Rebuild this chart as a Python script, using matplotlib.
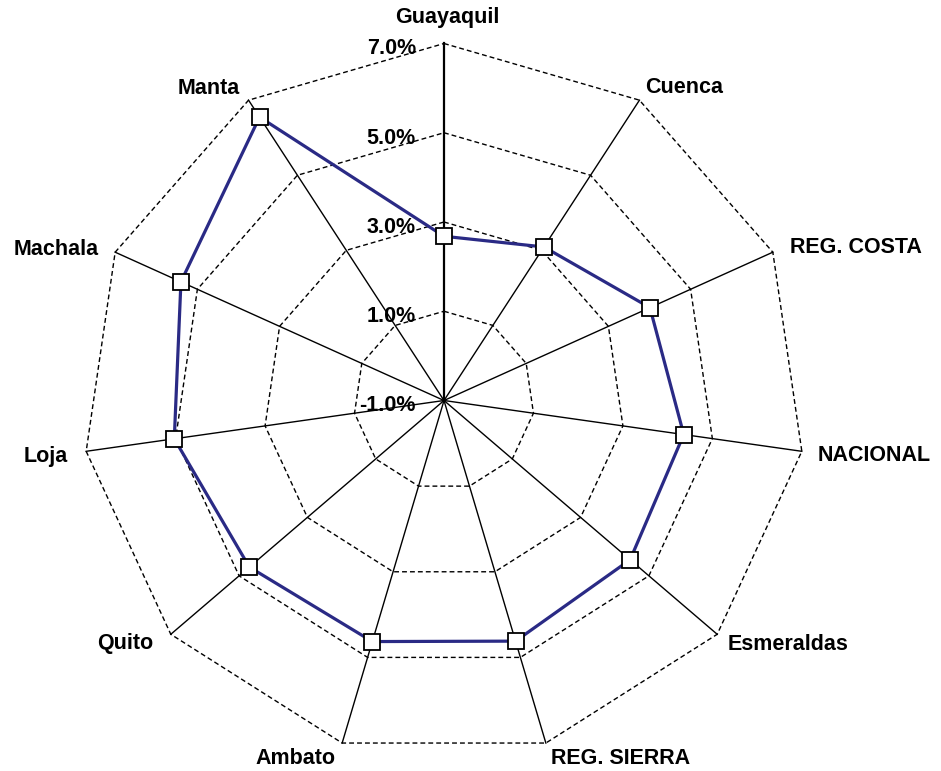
import numpy as np
import matplotlib
matplotlib.use("Agg")
import matplotlib.pyplot as plt

plt.rcParams['font.family'] = ['Liberation Sans', 'DejaVu Sans']

categories = ["Guayaquil", "Cuenca", "REG. COSTA", "NACIONAL", "Esmeraldas",
              "REG. SIERRA", "Ambato", "Quito", "Loja", "Machala", "Manta"]
values = [2.68, 3.09, 4.01, 4.36, 4.45, 4.62, 4.63, 4.70, 5.03, 5.40, 6.55]
grid_levels = [1.0, 3.0, 5.0, 7.0]
tick_labels = ["-1.0%", "1.0%", "3.0%", "5.0%", "7.0%"]
tick_values = [-1.0, 1.0, 3.0, 5.0, 7.0]
rmin, rmax = -1.0, 7.0

n = len(categories)
theta = np.arange(n) * 2 * np.pi / n

fig = plt.figure(figsize=(9.41, 7.71), dpi=100)
ax = fig.add_axes([82.5 / 941, 13.5 / 771, 723 / 941, 714 / 771], projection='polar')
ax.set_aspect('auto')
ax.set_theta_zero_location('N')
ax.set_theta_direction(-1)
ax.set_ylim(rmin, rmax)
ax.set_axis_off()

tc = np.append(theta, theta[0])
# dashed polygon gridlines
for g in grid_levels:
    ax.plot(tc, [g] * (n + 1), color='black', lw=1.0, ls=(0, (3.5, 2.2)), clip_on=False, zorder=1)
# spokes
for i, t in enumerate(theta):
    ax.plot([t, t], [rmin, rmax], color='black', lw=1.6 if i == 0 else 1.0, clip_on=False, zorder=2)

# data series
vc = values + [values[0]]
ax.plot(tc, vc, color='#2a2a85', lw=2.3, zorder=3, clip_on=False)
ax.plot(theta, values, ls='none', marker='s', ms=11.2, mfc='white', mec='black', mew=1.3, zorder=4, clip_on=False)

# radial tick labels
for tv, tl in zip(tick_values, tick_labels):
    ax.annotate(tl, xy=(0, tv), xytext=(-28, -11), textcoords='offset pixels',
                ha='right', va='baseline', fontsize=15.5, fontweight='bold', annotation_clip=False)

# category labels
offsets = [(3, 20, 'center'), (6, 7, 'left'), (17, -1, 'left'), (16, -10, 'left'),
           (10, -16, 'left'), (5, -21, 'left'), (-7, -21, 'right'), (-18, -15, 'right'),
           (-18, -11, 'right'), (-16, -3, 'right'), (-9, 6, 'right')]
for t, lab, (dx, dy, ha) in zip(theta, categories, offsets):
    ax.annotate(lab, xy=(t, rmax), xytext=(dx, dy), textcoords='offset pixels',
                ha=ha, va='baseline', fontsize=15.5, fontweight='bold', annotation_clip=False)

fig.savefig('out.png', dpi=100, facecolor='white')
